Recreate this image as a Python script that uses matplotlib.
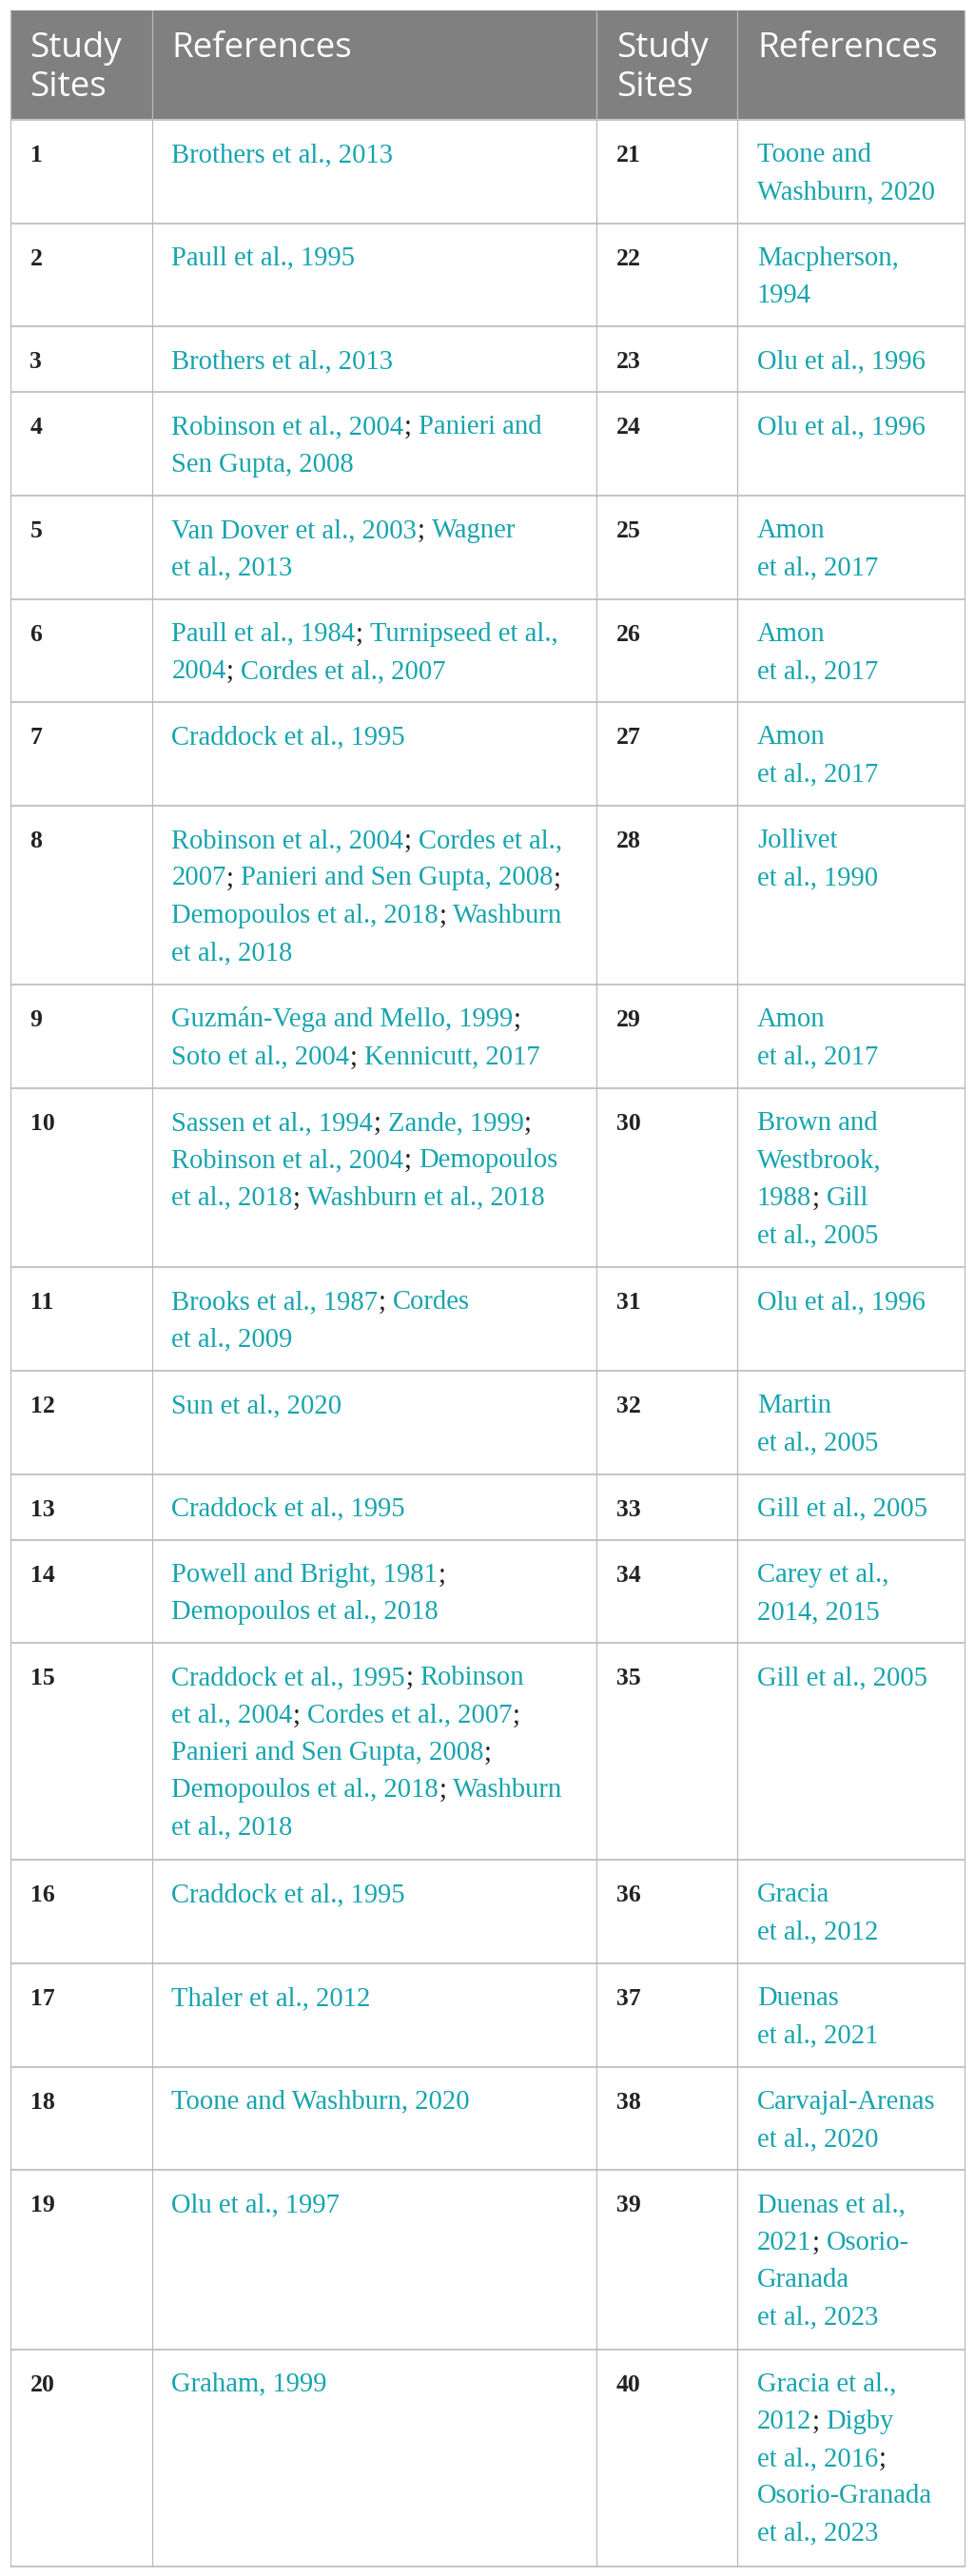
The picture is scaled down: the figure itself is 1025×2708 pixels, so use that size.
import matplotlib
matplotlib.use('Agg')
import matplotlib.pyplot as plt
from matplotlib.patches import Rectangle

# table content
header = ["Study\nSites", "References", "Study\nSites", "References"]
sites_left = list(range(1, 21))
sites_right = list(range(21, 41))
refs_left = [
    "Brothers et al., 2013",
    "Paull et al., 1995",
    "Brothers et al., 2013",
    "Robinson et al., 2004; Panieri and\nSen Gupta, 2008",
    "Van Dover et al., 2003; Wagner\net al., 2013",
    "Paull et al., 1984; Turnipseed et al.,\n2004; Cordes et al., 2007",
    "Craddock et al., 1995",
    "Robinson et al., 2004; Cordes et al.,\n2007; Panieri and Sen Gupta, 2008;\nDemopoulos et al., 2018; Washburn\net al., 2018",
    "Guzmán-Vega and Mello, 1999;\nSoto et al., 2004; Kennicutt, 2017",
    "Sassen et al., 1994; Zande, 1999;\nRobinson et al., 2004; Demopoulos\net al., 2018; Washburn et al., 2018",
    "Brooks et al., 1987; Cordes\net al., 2009",
    "Sun et al., 2020",
    "Craddock et al., 1995",
    "Powell and Bright, 1981;\nDemopoulos et al., 2018",
    "Craddock et al., 1995; Robinson\net al., 2004; Cordes et al., 2007;\nPanieri and Sen Gupta, 2008;\nDemopoulos et al., 2018; Washburn\net al., 2018",
    "Craddock et al., 1995",
    "Thaler et al., 2012",
    "Toone and Washburn, 2020",
    "Olu et al., 1997",
    "Graham, 1999",
]
refs_right = [
    "Toone and\nWashburn, 2020",
    "Macpherson,\n1994",
    "Olu et al., 1996",
    "Olu et al., 1996",
    "Amon\net al., 2017",
    "Amon\net al., 2017",
    "Amon\net al., 2017",
    "Jollivet\net al., 1990",
    "Amon\net al., 2017",
    "Brown and\nWestbrook,\n1988; Gill\net al., 2005",
    "Olu et al., 1996",
    "Martin\net al., 2005",
    "Gill et al., 2005",
    "Carey et al.,\n2014, 2015",
    "Gill et al., 2005",
    "Gracia\net al., 2012",
    "Duenas\net al., 2021",
    "Carvajal-Arenas\net al., 2020",
    "Duenas et al.,\n2021; Osorio-\nGranada\net al., 2023",
    "Gracia et al.,\n2012; Digby\net al., 2016;\nOsorio-Granada\net al., 2023",
]

W, H = 1025, 2708
teal = '#17a4ae'
grid_c = '#c6c6c6'

fig = plt.figure(figsize=(W / 100, H / 100), dpi=100)
ax = fig.add_axes([0, 0, 1, 1])
ax.set_xlim(0, W)
ax.set_ylim(H, 0)
ax.axis('off')

col_x = [10.5, 159.5, 627, 775, 1013.5]
pad_x = 21
top = 10.5
head_h = 115.5
line_h = 39.75
pad_y = 29.2
base_off = 44

n_lines = [max(a.count('\n'), b.count('\n')) + 1 for a, b in zip(refs_left, refs_right)]
row_tops = [top + head_h]
for n in n_lines:
    row_tops.append(row_tops[-1] + pad_y + line_h * n)
bottom = row_tops[-1]

# header
ax.add_patch(Rectangle((col_x[0], top), col_x[-1] - col_x[0], head_h,
                       facecolor='#808080', lw=0))
for i, h in enumerate(header):
    for j, part in enumerate(h.split('\n')):
        ax.text(col_x[i] + pad_x, top + 49.5 + j * 41, part, color='white',
                fontsize=26.5, family='Open Sans', va='baseline')

# grid
for y in row_tops:
    ax.plot([col_x[0], col_x[-1]], [y, y], color=grid_c, lw=1.5, solid_capstyle='butt')
for x in col_x:
    ax.plot([x, x], [top, bottom], color='#bababa', lw=0.9, solid_capstyle='butt')

renderer = fig.canvas.get_renderer()
serif = dict(family='Liberation Serif', fontsize=20.6, va='baseline')
probe1 = ax.text(0, -100, 'xx', **serif)
probe2 = ax.text(0, -100, 'x x', **serif)
space_w = probe2.get_window_extent(renderer).width - probe1.get_window_extent(renderer).width
probe1.remove()
probe2.remove()


def draw_line(x, y, line):
    # links in teal, the semicolons between them in black
    parts = line.split(';')
    for k, p in enumerate(parts):
        p = p.lstrip() if k > 0 else p
        if k > 0:
            x += space_w
        t = ax.text(x, y, p, color=teal, **serif)
        x = t.get_window_extent(renderer).x1
        if k < len(parts) - 1:
            s = ax.text(x, y, ';', color='#222222', **serif)
            x = s.get_window_extent(renderer).x1


for r in range(len(sites_left)):
    yb = row_tops[r] + base_off
    ax.text(col_x[0] + pad_x, yb, str(sites_left[r]), color='#222222',
            fontweight='bold', family='Liberation Serif', fontsize=18.5, va='baseline')
    ax.text(col_x[2] + pad_x, yb, str(sites_right[r]), color='#222222',
            fontweight='bold', family='Liberation Serif', fontsize=18.5, va='baseline')
    for j, ln in enumerate(refs_left[r].split('\n')):
        draw_line(col_x[1] + pad_x, yb + j * 39.3, ln)
    for j, ln in enumerate(refs_right[r].split('\n')):
        draw_line(col_x[3] + pad_x, yb + j * 39.3, ln)

fig.savefig('out.png', dpi=100)
